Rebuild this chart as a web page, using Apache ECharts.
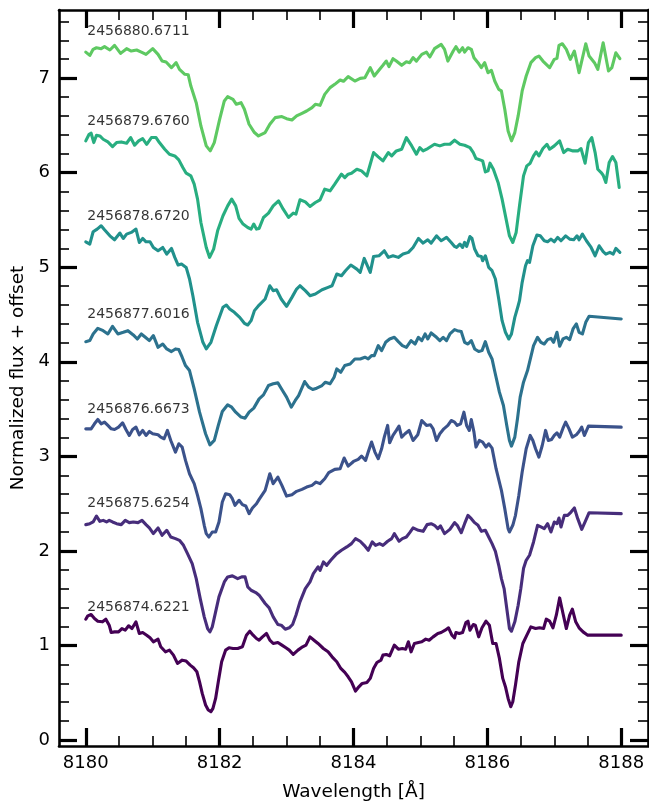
<!DOCTYPE html>
<html>
<head>
<meta charset="utf-8">
<script src="https://cdn.jsdelivr.net/npm/echarts@6/dist/echarts.min.js"></script>
<style>html,body{margin:0;padding:0;background:#fff;}#chart{width:649px;height:807px;}</style>
</head>
<body>
<div id="chart"></div>
<script>
// ---- axis ranges and ticks ----
const X_MIN = 8179.6, X_MAX = 8188.4;
const Y_MIN = -0.063, Y_MAX = 7.72;
const X_TICKS = [8180, 8182, 8184, 8186, 8188];
const X_MINOR = [8180.5, 8181, 8181.5, 8182.5, 8183, 8183.5, 8184.5, 8185, 8185.5, 8186.5, 8187, 8187.5];
const Y_TICKS = [0, 1, 2, 3, 4, 5, 6, 7];
const Y_MINOR = [0.2,0.4,0.6,0.8,1.2,1.4,1.6,1.8,2.2,2.4,2.6,2.8,3.2,3.4,3.6,3.8,4.2,4.4,4.6,4.8,5.2,5.4,5.6,5.8,6.2,6.4,6.6,6.8,7.2,7.4,7.6];

// ---- labels (Julian dates) and their positions ----
const NAMES = ['2456874.6221','2456875.6254','2456876.6673','2456877.6016','2456878.6720','2456879.6760','2456880.6711'];
const LABEL_Y = [1.404, 2.503, 3.50, 4.506, 5.533, 6.547, 7.497];
const COLORS = ['#440154','#472d7b','#3b528b','#2c728e','#21918c','#28ae80','#5ec962'];

// ---- spectra ----
const wl874 = [8180.00,8180.03,8180.08,8180.13,8180.18,8180.25,8180.30,8180.35,8180.38,8180.43,8180.49,8180.54,8180.59,8180.64,8180.69,8180.75,8180.80,8180.85,8180.91,8180.96,8181.01,8181.08,8181.12,8181.19,8181.25,8181.31,8181.37,8181.44,8181.50,8181.56,8181.61,8181.66,8181.70,8181.74,8181.79,8181.83,8181.87,8181.90,8181.94,8181.98,8182.03,8182.09,8182.14,8182.20,8182.27,8182.34,8182.40,8182.45,8182.50,8182.55,8182.59,8182.64,8182.70,8182.75,8182.80,8182.87,8182.93,8182.99,8183.04,8183.10,8183.17,8183.24,8183.29,8183.35,8183.41,8183.47,8183.55,8183.62,8183.68,8183.75,8183.81,8183.87,8183.92,8183.97,8184.03,8184.08,8184.13,8184.20,8184.25,8184.30,8184.35,8184.41,8184.44,8184.49,8184.54,8184.61,8184.67,8184.73,8184.78,8184.82,8184.86,8184.91,8184.97,8185.02,8185.08,8185.13,8185.19,8185.26,8185.31,8185.37,8185.42,8185.47,8185.51,8185.53,8185.58,8185.63,8185.68,8185.71,8185.74,8185.79,8185.82,8185.87,8185.92,8185.98,8186.03,8186.08,8186.13,8186.18,8186.23,8186.27,8186.31,8186.35,8186.38,8186.42,8186.47,8186.53,8186.59,8186.65,8186.72,8186.78,8186.84,8186.88,8186.93,8186.98,8187.03,8187.08,8187.13,8187.18,8187.23,8187.27,8187.32,8187.37,8187.43,8187.50,8188.00];
const fl874 = [1.278,1.313,1.327,1.285,1.257,1.250,1.278,1.215,1.137,1.144,1.144,1.179,1.162,1.208,1.179,1.250,1.127,1.137,1.109,1.081,1.039,1.067,0.986,0.933,0.951,0.898,0.810,0.845,0.835,0.792,0.764,0.722,0.616,0.493,0.370,0.317,0.299,0.335,0.440,0.616,0.827,0.951,0.975,0.968,0.968,0.986,1.109,1.151,1.109,1.074,1.056,1.091,1.127,1.056,1.021,1.032,1.004,0.975,0.951,0.905,0.951,0.986,1.004,1.091,1.056,1.021,0.968,0.933,0.880,0.828,0.757,0.715,0.669,0.616,0.518,0.563,0.599,0.609,0.652,0.757,0.820,0.845,0.898,0.905,0.891,1.004,0.961,0.968,0.961,1.039,0.933,1.021,1.032,1.039,1.067,1.056,1.091,1.127,1.137,1.162,1.187,1.109,1.081,1.137,1.127,1.137,1.243,1.257,1.162,1.222,1.215,1.091,1.187,1.257,1.215,1.021,1.021,0.863,0.652,0.564,0.440,0.352,0.405,0.581,0.827,1.021,1.109,1.197,1.179,1.187,1.179,1.278,1.257,1.187,1.320,1.503,1.338,1.179,1.320,1.384,1.250,1.187,1.144,1.109,1.109];

const wl875 = [8180.00,8180.06,8180.11,8180.16,8180.21,8180.26,8180.31,8180.35,8180.40,8180.46,8180.53,8180.59,8180.65,8180.71,8180.78,8180.84,8180.90,8180.95,8181.01,8181.08,8181.14,8181.21,8181.27,8181.34,8181.40,8181.46,8181.52,8181.59,8181.65,8181.71,8181.77,8181.82,8181.855,8181.89,8181.94,8181.99,8182.07,8182.12,8182.19,8182.27,8182.33,8182.38,8182.42,8182.47,8182.54,8182.59,8182.61,8182.68,8182.74,8182.80,8182.87,8182.92,8182.98,8183.04,8183.09,8183.14,8183.20,8183.28,8183.35,8183.40,8183.47,8183.50,8183.55,8183.60,8183.66,8183.75,8183.82,8183.90,8183.97,8184.03,8184.10,8184.16,8184.22,8184.28,8184.33,8184.39,8184.44,8184.51,8184.57,8184.61,8184.68,8184.73,8184.79,8184.84,8184.89,8184.97,8185.04,8185.10,8185.16,8185.21,8185.26,8185.30,8185.36,8185.44,8185.51,8185.55,8185.61,8185.66,8185.71,8185.76,8185.81,8185.86,8185.91,8185.97,8186.02,8186.07,8186.12,8186.17,8186.21,8186.25,8186.29,8186.33,8186.36,8186.41,8186.46,8186.50,8186.54,8186.58,8186.63,8186.69,8186.75,8186.80,8186.85,8186.90,8186.95,8187.00,8187.04,8187.07,8187.10,8187.15,8187.20,8187.25,8187.30,8187.35,8187.41,8187.46,8187.52,8188.00];
const fl875 = [2.278,2.288,2.306,2.369,2.313,2.323,2.306,2.323,2.306,2.288,2.278,2.323,2.299,2.306,2.299,2.323,2.278,2.243,2.183,2.243,2.165,2.218,2.147,2.130,2.112,2.059,1.971,1.866,1.707,1.496,1.303,1.179,1.144,1.197,1.356,1.514,1.672,1.725,1.736,1.707,1.725,1.725,1.620,1.584,1.560,1.532,1.514,1.444,1.398,1.303,1.222,1.215,1.172,1.187,1.222,1.320,1.461,1.602,1.672,1.760,1.831,1.795,1.883,1.848,1.901,1.971,2.007,2.042,2.077,2.130,2.102,2.059,2.007,2.095,2.059,2.077,2.059,2.102,2.130,2.183,2.102,2.130,2.147,2.193,2.243,2.218,2.207,2.278,2.288,2.271,2.235,2.264,2.183,2.228,2.299,2.271,2.193,2.288,2.376,2.341,2.299,2.271,2.207,2.218,2.147,2.077,1.996,1.848,1.707,1.602,1.391,1.179,1.151,1.250,1.426,1.602,1.813,1.901,1.954,2.095,2.271,2.253,2.235,2.288,2.200,2.306,2.288,2.348,2.253,2.376,2.376,2.411,2.454,2.341,2.228,2.306,2.404,2.394];

const wl876 = [8180.00,8180.08,8180.13,8180.18,8180.23,8180.28,8180.33,8180.38,8180.43,8180.49,8180.55,8180.60,8180.65,8180.70,8180.75,8180.80,8180.85,8180.90,8180.95,8181.00,8181.08,8181.12,8181.17,8181.22,8181.27,8181.34,8181.39,8181.44,8181.49,8181.55,8181.62,8181.67,8181.72,8181.77,8181.80,8181.84,8181.89,8181.94,8181.99,8182.04,8182.09,8182.15,8182.19,8182.23,8182.29,8182.34,8182.39,8182.44,8182.49,8182.55,8182.59,8182.61,8182.68,8182.75,8182.80,8182.87,8182.93,8183.00,8183.08,8183.15,8183.23,8183.30,8183.38,8183.44,8183.50,8183.57,8183.63,8183.72,8183.80,8183.86,8183.92,8184.00,8184.07,8184.12,8184.18,8184.22,8184.27,8184.32,8184.37,8184.42,8184.46,8184.51,8184.54,8184.59,8184.64,8184.68,8184.72,8184.77,8184.83,8184.89,8184.96,8185.02,8185.09,8185.15,8185.19,8185.24,8185.29,8185.35,8185.41,8185.46,8185.51,8185.55,8185.60,8185.65,8185.69,8185.73,8185.76,8185.80,8185.83,8185.88,8185.93,8185.98,8186.02,8186.07,8186.13,8186.21,8186.26,8186.31,8186.33,8186.38,8186.42,8186.47,8186.52,8186.58,8186.64,8186.68,8186.72,8186.77,8186.82,8186.87,8186.91,8186.96,8187.00,8187.04,8187.08,8187.13,8187.17,8187.22,8187.27,8187.33,8187.37,8187.41,8187.45,8187.51,8188.00];
const fl876 = [3.291,3.291,3.344,3.390,3.344,3.362,3.327,3.291,3.284,3.309,3.355,3.284,3.221,3.284,3.309,3.228,3.274,3.221,3.263,3.239,3.228,3.203,3.186,3.274,3.168,3.045,3.133,3.098,2.957,2.816,2.711,2.587,2.447,2.271,2.183,2.147,2.200,2.200,2.306,2.517,2.605,2.594,2.552,2.482,2.535,2.489,2.475,2.394,2.454,2.499,2.545,2.552,2.640,2.816,2.711,2.781,2.693,2.580,2.594,2.630,2.651,2.675,2.693,2.728,2.711,2.763,2.827,2.862,2.869,2.982,2.897,2.946,2.968,3.003,2.957,3.045,3.151,3.045,2.975,3.080,3.203,3.327,3.144,3.221,3.274,3.320,3.203,3.239,3.274,3.168,3.228,3.379,3.327,3.334,3.291,3.168,3.239,3.291,3.327,3.379,3.362,3.327,3.344,3.467,3.327,3.274,3.390,3.256,3.098,3.168,3.151,3.098,3.133,3.087,2.869,2.640,2.447,2.235,2.200,2.271,2.376,2.587,2.834,3.080,3.221,3.168,3.080,2.992,3.115,3.274,3.168,3.179,3.221,3.249,3.203,3.298,3.362,3.291,3.203,3.228,3.263,3.309,3.221,3.320,3.309];

const wl877 = [8180.00,8180.06,8180.11,8180.18,8180.26,8180.33,8180.40,8180.48,8180.56,8180.63,8180.71,8180.77,8180.83,8180.89,8180.95,8181.01,8181.08,8181.15,8181.21,8181.28,8181.34,8181.39,8181.44,8181.49,8181.55,8181.62,8181.70,8181.79,8181.855,8181.92,8181.98,8182.04,8182.12,8182.18,8182.24,8182.32,8182.38,8182.44,8182.51,8182.59,8182.655,8182.73,8182.80,8182.87,8182.93,8183.00,8183.07,8183.13,8183.18,8183.27,8183.33,8183.39,8183.45,8183.53,8183.58,8183.65,8183.71,8183.75,8183.81,8183.87,8183.95,8184.02,8184.10,8184.17,8184.22,8184.27,8184.31,8184.37,8184.42,8184.48,8184.54,8184.61,8184.67,8184.73,8184.79,8184.86,8184.92,8184.97,8185.02,8185.07,8185.11,8185.16,8185.24,8185.29,8185.34,8185.39,8185.44,8185.51,8185.55,8185.61,8185.66,8185.71,8185.76,8185.81,8185.87,8185.92,8185.97,8186.02,8186.07,8186.11,8186.18,8186.24,8186.29,8186.33,8186.36,8186.41,8186.45,8186.49,8186.54,8186.60,8186.69,8186.75,8186.80,8186.85,8186.90,8186.95,8186.99,8187.04,8187.08,8187.13,8187.18,8187.23,8187.28,8187.33,8187.37,8187.42,8187.47,8187.52,8188.00];
const fl877 = [4.213,4.224,4.294,4.354,4.329,4.294,4.375,4.294,4.312,4.329,4.284,4.241,4.294,4.259,4.224,4.277,4.153,4.188,4.136,4.108,4.136,4.129,4.048,3.960,3.907,3.714,3.467,3.239,3.122,3.168,3.327,3.474,3.545,3.520,3.467,3.415,3.404,3.467,3.510,3.608,3.650,3.749,3.767,3.777,3.707,3.626,3.520,3.591,3.643,3.791,3.731,3.707,3.721,3.749,3.784,3.767,3.837,3.925,3.889,3.960,3.977,4.030,4.030,4.048,4.030,4.065,4.065,4.171,4.118,4.206,4.241,4.259,4.213,4.171,4.153,4.224,4.188,4.259,4.224,4.294,4.241,4.305,4.259,4.224,4.259,4.224,4.294,4.340,4.329,4.319,4.206,4.188,4.224,4.136,4.108,4.118,4.213,4.101,4.030,3.900,3.679,3.538,3.327,3.168,3.108,3.203,3.397,3.626,3.784,3.907,4.171,4.259,4.206,4.188,4.234,4.248,4.206,4.312,4.164,4.241,4.259,4.234,4.347,4.400,4.312,4.294,4.417,4.481,4.453];

const wl878 = [8180.00,8180.06,8180.11,8180.17,8180.23,8180.28,8180.36,8180.43,8180.51,8180.56,8180.61,8180.68,8180.75,8180.80,8180.85,8180.90,8180.96,8181.01,8181.08,8181.15,8181.21,8181.28,8181.33,8181.38,8181.43,8181.50,8181.55,8181.60,8181.67,8181.75,8181.80,8181.87,8181.95,8182.05,8182.10,8182.15,8182.22,8182.30,8182.37,8182.42,8182.47,8182.52,8182.59,8182.68,8182.75,8182.80,8182.85,8182.92,8183.00,8183.08,8183.15,8183.20,8183.28,8183.35,8183.43,8183.53,8183.62,8183.68,8183.75,8183.82,8183.88,8183.96,8184.05,8184.10,8184.16,8184.25,8184.30,8184.38,8184.46,8184.52,8184.59,8184.67,8184.74,8184.82,8184.89,8184.97,8185.04,8185.11,8185.16,8185.24,8185.31,8185.39,8185.46,8185.51,8185.54,8185.59,8185.63,8185.66,8185.69,8185.74,8185.77,8185.81,8185.86,8185.91,8185.93,8185.97,8186.02,8186.07,8186.12,8186.17,8186.22,8186.27,8186.32,8186.36,8186.41,8186.46,8186.48,8186.52,8186.57,8186.60,8186.63,8186.68,8186.74,8186.79,8186.85,8186.90,8186.95,8187.00,8187.05,8187.10,8187.17,8187.23,8187.29,8187.34,8187.37,8187.42,8187.48,8187.55,8187.61,8187.67,8187.73,8187.77,8187.83,8187.88,8187.92,8187.98];
const fl878 = [5.269,5.245,5.375,5.403,5.438,5.396,5.332,5.290,5.361,5.304,5.350,5.368,5.403,5.262,5.304,5.269,5.269,5.209,5.174,5.209,5.139,5.199,5.104,5.023,5.033,4.998,4.875,4.699,4.417,4.206,4.136,4.206,4.382,4.576,4.600,4.558,4.523,4.470,4.407,4.389,4.435,4.541,4.600,4.664,4.804,4.752,4.762,4.664,4.586,4.681,4.769,4.804,4.752,4.699,4.716,4.762,4.787,4.804,4.928,4.910,4.963,5.023,4.980,4.945,5.093,4.945,5.114,5.121,5.174,5.104,5.121,5.104,5.139,5.157,5.209,5.304,5.255,5.290,5.255,5.332,5.280,5.315,5.262,5.220,5.209,5.245,5.209,5.262,5.220,5.325,5.304,5.192,5.121,5.114,5.069,5.121,4.998,4.963,4.875,4.664,4.435,4.312,4.241,4.294,4.470,4.593,4.646,4.840,5.016,5.069,5.051,5.227,5.340,5.332,5.280,5.269,5.297,5.269,5.315,5.280,5.332,5.297,5.290,5.332,5.290,5.350,5.280,5.209,5.121,5.227,5.164,5.139,5.157,5.139,5.199,5.157];

const wl879 = [8180.00,8180.05,8180.08,8180.12,8180.16,8180.21,8180.26,8180.33,8180.40,8180.46,8180.53,8180.61,8180.67,8180.73,8180.79,8180.85,8180.91,8180.98,8181.05,8181.10,8181.18,8181.25,8181.33,8181.39,8181.45,8181.50,8181.57,8181.62,8181.67,8181.72,8181.80,8181.85,8181.91,8181.97,8182.05,8182.12,8182.18,8182.24,8182.29,8182.35,8182.42,8182.47,8182.51,8182.55,8182.59,8182.655,8182.73,8182.80,8182.88,8182.95,8183.03,8183.10,8183.14,8183.20,8183.28,8183.35,8183.43,8183.50,8183.57,8183.65,8183.72,8183.82,8183.87,8183.92,8183.97,8184.05,8184.12,8184.20,8184.25,8184.30,8184.37,8184.44,8184.52,8184.57,8184.64,8184.72,8184.79,8184.87,8184.94,8184.99,8185.04,8185.11,8185.21,8185.29,8185.36,8185.44,8185.51,8185.59,8185.66,8185.74,8185.79,8185.83,8185.89,8185.93,8185.97,8186.01,8186.04,8186.09,8186.16,8186.22,8186.28,8186.33,8186.38,8186.43,8186.48,8186.54,8186.59,8186.64,8186.69,8186.73,8186.77,8186.83,8186.89,8186.93,8187.00,8187.08,8187.14,8187.20,8187.28,8187.35,8187.40,8187.46,8187.51,8187.56,8187.61,8187.65,8187.70,8187.73,8187.77,8187.82,8187.87,8187.92,8187.97];
const fl879 = [6.336,6.406,6.417,6.318,6.396,6.388,6.353,6.325,6.276,6.318,6.325,6.311,6.371,6.290,6.336,6.360,6.300,6.371,6.371,6.318,6.248,6.195,6.177,6.135,6.054,5.994,5.966,5.878,5.720,5.473,5.209,5.104,5.192,5.385,5.544,5.649,5.720,5.649,5.516,5.456,5.420,5.403,5.456,5.403,5.410,5.526,5.572,5.649,5.702,5.614,5.526,5.572,5.561,5.713,5.691,5.642,5.684,5.713,5.825,5.808,5.878,5.984,5.948,5.984,5.994,6.036,6.019,5.966,6.089,6.212,6.167,6.124,6.212,6.177,6.230,6.248,6.371,6.283,6.195,6.265,6.230,6.255,6.300,6.283,6.300,6.300,6.343,6.300,6.290,6.265,6.212,6.149,6.135,6.124,6.008,6.019,6.100,6.036,5.896,5.720,5.508,5.332,5.262,5.368,5.649,5.966,6.072,6.100,6.177,6.219,6.177,6.255,6.300,6.248,6.283,6.336,6.212,6.248,6.230,6.230,6.255,6.100,6.318,6.371,6.212,6.036,6.001,5.973,5.896,6.107,6.170,6.107,5.843];

const wl880 = [8180.00,8180.06,8180.11,8180.16,8180.23,8180.28,8180.36,8180.43,8180.52,8180.61,8180.68,8180.76,8180.83,8180.90,8181.00,8181.08,8181.14,8181.20,8181.28,8181.35,8181.40,8181.48,8181.53,8181.57,8181.65,8181.72,8181.80,8181.86,8181.92,8182.00,8182.07,8182.12,8182.20,8182.25,8182.32,8182.37,8182.44,8182.52,8182.58,8182.68,8182.75,8182.83,8182.93,8183.00,8183.08,8183.15,8183.23,8183.30,8183.38,8183.43,8183.50,8183.57,8183.65,8183.72,8183.80,8183.85,8183.92,8184.02,8184.10,8184.17,8184.25,8184.31,8184.37,8184.44,8184.49,8184.53,8184.59,8184.64,8184.72,8184.79,8184.84,8184.89,8184.94,8185.02,8185.09,8185.14,8185.21,8185.31,8185.36,8185.41,8185.49,8185.53,8185.58,8185.63,8185.66,8185.71,8185.76,8185.80,8185.86,8185.91,8185.96,8186.01,8186.06,8186.11,8186.17,8186.21,8186.26,8186.31,8186.36,8186.41,8186.46,8186.52,8186.58,8186.65,8186.72,8186.77,8186.83,8186.93,8187.00,8187.04,8187.07,8187.12,8187.18,8187.24,8187.30,8187.37,8187.47,8187.52,8187.60,8187.65,8187.73,8187.81,8187.86,8187.92,8187.98];
const fl880 = [7.275,7.240,7.304,7.321,7.311,7.332,7.297,7.346,7.261,7.311,7.286,7.297,7.275,7.251,7.311,7.251,7.180,7.170,7.110,7.163,7.092,7.040,7.036,6.916,6.740,6.494,6.283,6.230,6.318,6.564,6.758,6.804,6.776,6.723,6.740,6.670,6.512,6.424,6.388,6.424,6.512,6.582,6.593,6.571,6.557,6.600,6.628,6.652,6.688,6.723,6.712,6.828,6.899,6.934,6.980,6.966,7.015,6.969,6.997,7.004,7.110,7.022,7.075,7.135,7.180,7.121,7.205,7.180,7.135,7.173,7.163,7.216,7.180,7.251,7.275,7.223,7.311,7.356,7.304,7.180,7.286,7.332,7.275,7.321,7.275,7.321,7.304,7.216,7.163,7.110,7.163,7.057,7.082,6.969,6.881,6.864,6.670,6.441,6.336,6.424,6.600,6.864,7.022,7.163,7.216,7.233,7.180,7.110,7.198,7.209,7.346,7.363,7.304,7.198,7.286,7.057,7.363,7.233,7.163,7.092,7.374,7.075,7.110,7.268,7.205];

const WAVES = [wl874, wl875, wl876, wl877, wl878, wl879, wl880];
const FLUXES = [fl874, fl875, fl876, fl877, fl878, fl879, fl880];

// ---- chart ----
const FONT = 'DejaVu Sans';
const chart = echarts.init(document.getElementById('chart'), null, {renderer: 'canvas'});

function axisBase(extra) {
  return Object.assign({
    type: 'value', splitLine: {show: false},
    axisLine: {show: false, onZero: false, lineStyle: {color: '#000', width: 2.6}},
    axisLabel: {show: false},
    axisTick: {show: false}
  }, extra);
}
function majorTick(vals) {
  return {show: true, inside: true, length: 18, customValues: vals, lineStyle: {color: '#000', width: 3.2}};
}
function minorTick(vals) {
  return {show: true, inside: true, length: 10, customValues: vals, lineStyle: {color: '#000', width: 1.6}};
}

const xAxes = [
  axisBase({position: 'bottom', min: X_MIN, max: X_MAX,
    axisLine: {show: true, onZero: false, lineStyle: {color: '#000', width: 2.6}},
    axisTick: majorTick(X_TICKS),
    axisLabel: {show: true, customValues: X_TICKS, fontSize: 18, color: '#000', fontFamily: FONT, margin: 8, formatter: v => String(v)},
    name: 'Wavelength [Å]', nameLocation: 'middle', nameGap: 37,
    nameTextStyle: {fontSize: 18.5, color: '#000', fontFamily: FONT}}),
  axisBase({position: 'bottom', min: X_MIN, max: X_MAX, axisTick: minorTick(X_MINOR)}),
  axisBase({position: 'top', min: X_MIN, max: X_MAX,
    axisLine: {show: true, onZero: false, lineStyle: {color: '#000', width: 2.6}},
    axisTick: majorTick(X_TICKS)}),
  axisBase({position: 'top', min: X_MIN, max: X_MAX, axisTick: minorTick(X_MINOR)})
];
const yAxes = [
  axisBase({position: 'left', min: Y_MIN, max: Y_MAX,
    axisLine: {show: true, onZero: false, lineStyle: {color: '#000', width: 2.6}},
    axisTick: majorTick(Y_TICKS),
    axisLabel: {show: true, customValues: Y_TICKS, fontSize: 18, color: '#000', fontFamily: FONT, margin: 9, formatter: v => String(v)},
    name: 'Normalized flux + offset', nameLocation: 'middle', nameGap: 30,
    nameTextStyle: {fontSize: 18.5, color: '#000', fontFamily: FONT}}),
  axisBase({position: 'left', min: Y_MIN, max: Y_MAX, axisTick: minorTick(Y_MINOR)}),
  axisBase({position: 'right', min: Y_MIN, max: Y_MAX,
    axisLine: {show: true, onZero: false, lineStyle: {color: '#000', width: 2.6}},
    axisTick: majorTick(Y_TICKS)}),
  axisBase({position: 'right', min: Y_MIN, max: Y_MAX, axisTick: minorTick(Y_MINOR)})
];

const series = WAVES.map((w, i) => ({
  type: 'line', name: NAMES[i], xAxisIndex: 0, yAxisIndex: 0,
  data: w.map((x, j) => [x, FLUXES[i][j]]),
  showSymbol: false, symbol: 'none', smooth: false,
  lineStyle: {color: COLORS[i], width: 3.1, cap: 'round', join: 'round'},
  itemStyle: {color: COLORS[i]}, z: 2 + i
}));
series.push({
  type: 'scatter', xAxisIndex: 0, yAxisIndex: 0, symbolSize: 1,
  itemStyle: {color: 'rgba(0,0,0,0)'},
  data: NAMES.map((n, i) => [8180, LABEL_Y[i], n]),
  label: {show: true, position: 'right', distance: 1, formatter: p => p.data[2],
    fontSize: 14, color: '#000', fontFamily: FONT},
  z: 20
});

chart.setOption({
  animation: false,
  backgroundColor: '#fff',
  grid: {left: 59, top: 10, width: 589, height: 737.7, containLabel: false},
  xAxis: xAxes,
  yAxis: yAxes,
  series: series
});
</script>
</body>
</html>
